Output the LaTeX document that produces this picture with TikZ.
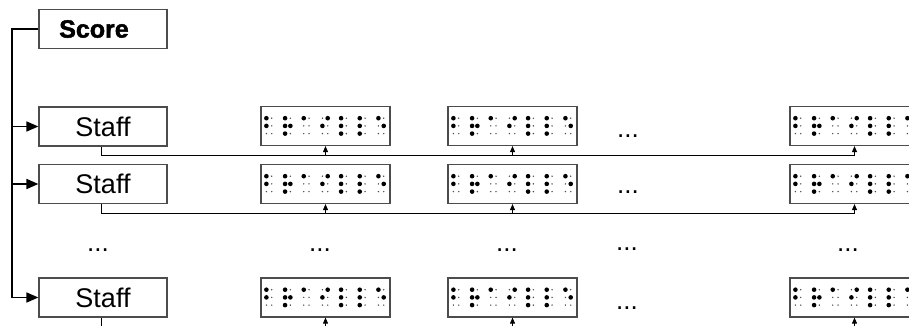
\documentclass[tikz,border=0pt]{standalone}
\usepackage{fontspec}
\setmainfont{Liberation Sans}
\newfontfamily\heavyfont[FakeBold=1.6]{Liberation Sans Bold}
\usetikzlibrary{arrows.meta}
\newcommand\brailledots[1]{%
  \begin{scope}[shift={(#1.north west)}]
    \foreach \bi/\bdl in {0/{1,2}, 1/{1,2,3,5}, 2/{1}, 3/{2,4}, 4/{1,2,3}, 5/{1,2,3}, 6/{1,5}}{
      \foreach \bd in {1,...,6}{
        \pgfmathtruncatemacro\bcc{\bd>3}
        \pgfmathsetmacro\bxx{6+\bi*18.67+\bcc*5.3}
        \pgfmathsetmacro\byy{12.3+(\bd-1-3*\bcc)*7.7}
        \fill[black!70] (\bxx,\byy) circle[radius=0.8pt];
      }
      \foreach \bd in \bdl{
        \pgfmathtruncatemacro\bcc{\bd>3}
        \pgfmathsetmacro\bxx{6+\bi*18.67+\bcc*5.3}
        \pgfmathsetmacro\byy{12.3+(\bd-1-3*\bcc)*7.7}
        \fill[black] (\bxx,\byy) circle[radius=2.3pt];
      }
    }
  \end{scope}}
\begin{document}
\begin{tikzpicture}[x=1pt,y=-1pt,
  box/.style={draw=black!70, line width=1.2pt, minimum width=128pt, minimum height=39pt, inner sep=0pt},
  bbox/.style={box, minimum width=129pt},
  lbl/.style={font=\fontsize{27}{30}\selectfont},
  ell/.style={font=\fontsize{26}{30}\selectfont, anchor=base, inner sep=0pt},
  bigarrow/.style={line width=1.7pt, -{Triangle[length=12pt,width=10pt]}},
  smallarrow/.style={line width=0.9pt, -{Triangle[length=6pt,width=5pt]}},
  conn/.style={line width=0.9pt}]
\clip (0,0) rectangle (909,326);
\fill[white] (0,0) rectangle (909,326);
% score and staffs
\node[box, font=\fontsize{25}{30}\heavyfont] (score) at (103,29) {\makebox[0pt]{\hspace*{-18pt}Score}};
\node[box, lbl] (s1) at (103,126.5) {Staff};
\node[box, lbl] (s2) at (103,184) {Staff};
\node[box, lbl] (s3) at (103,297.5) {Staff};
% braille boxes
\node[bbox] (b11) at (325.5,126) {};
\node[bbox] (b12) at (512.5,126) {};
\node[bbox] (b13) at (854.5,126) {};
\node[bbox] (b21) at (325.5,184) {};
\node[bbox] (b22) at (512.5,184) {};
\node[bbox] (b23) at (854.5,184) {};
\node[bbox] (b31) at (325.5,297.5) {};
\node[bbox] (b32) at (512.5,297.5) {};
\node[bbox] (b33) at (854.5,297.5) {};
\foreach \n in {b11,b12,b13,b21,b22,b23,b31,b32,b33}{\brailledots{\n}}
% ellipses
\node[ell] (e1) at (628,137) {...};
\node[ell] (e2) at (628,193) {...};
\node[ell] (e3) at (98,251) {...};
\node[ell] (e4) at (320,251) {...};
\node[ell] (e5) at (507,251) {...};
\node[ell] (e6) at (627,250) {...};
\node[ell] (e7) at (848,251) {...};
\node[ell] (e8) at (627,309) {...};
% bracket
\coordinate (trunk) at (12,29);
\draw[bigarrow] (score.west) -- (trunk) |- (s3.west);
\draw[bigarrow] (trunk |- s1.west) -- (s1.west);
\draw[bigarrow] (trunk |- s2.west) -- (s2.west);
% connectors
\coordinate (r1) at (101,155);
\coordinate (r2) at (101,213.5);
\coordinate (r3) at (101,340);
\foreach \r in {1,2,3}{
  \draw[conn] (s\r.south -| r\r) -- (r\r) -- (r\r -| b\r3.south);
  \foreach \c in {1,2,3}{
    \draw[smallarrow] (r\r -| b\r\c.south) -- (b\r\c.south);
  }
}
\end{tikzpicture}
\end{document}
